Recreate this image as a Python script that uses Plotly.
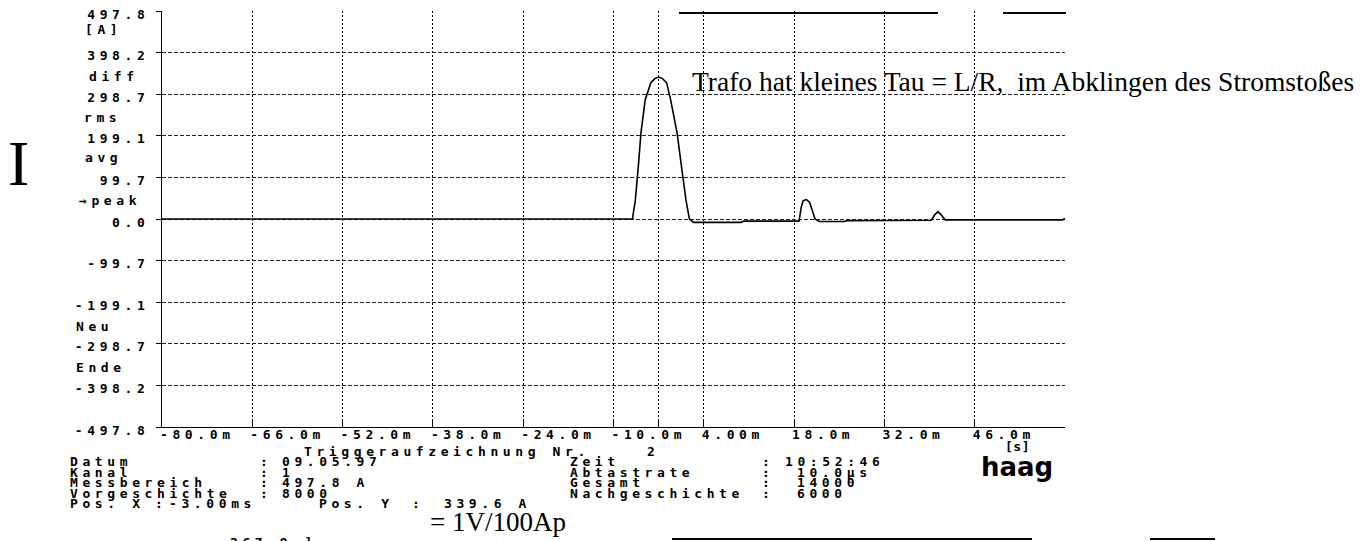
import plotly.graph_objects as go

# ---------------- data ----------------
time_ms = [-80.0, -7.04, -6.95, -6.62, -6.16, -5.75, -5.09, -4.21, -3.6, -3.0, -2.4,
           -1.76, -1.14, -0.13, 0.55, 1.25, 1.77, 2.43, 9.8, 10.2,
           18.77, 19.1, 19.4, 19.9, 20.4, 20.8, 21.25, 21.9, 25.8, 26.2,
           39.27, 39.8, 40.3, 40.8, 41.4, 59.6, 60.0]
current_A = [0.0, 0.0, 12.0, 44.0, 124.0, 205.0, 285.0, 326.0, 336.0, 339.6, 336.0,
             326.0, 285.0, 205.0, 124.0, 44.0, 0.0, -8.0, -8.0, -5.0,
             -5.0, 28.0, 44.0, 46.5, 40.0, 20.0, 0.0, -6.0, -6.0, -4.0,
             -3.0, 10.0, 17.6, 10.0, -2.0, -2.0, 1.0]

x_tick_vals = [-80, -66, -52, -38, -24, -10, 4, 18, 32, 46]
x_tick_text = ["-80.0m", "-66.0m", "-52.0m", "-38.0m", "-24.0m", "-10.0m",
               "4.00m", "18.0m", "32.0m", "46.0m"]
cursor_ms = -3.0

y_tick_vals = [497.8, 398.2, 298.7, 199.1, 99.7, 0.0, -99.7, -199.1, -298.7, -398.2, -497.8]
y_tick_text = ["497.8", "398.2", "298.7", "199.1", "99.7", "0.0",
               "-99.7", "-199.1", "-298.7", "-398.2", "-497.8"]

side_labels = ["[A]", "diff", "rms", "avg", "\u2192peak", "Neu", "Ende"]

info_rows = [
    [("Datum", 68), (":", 258), ("09.05.97", 280), ("Zeit", 568), (":", 760), ("10:52:46", 783)],
    [("Kanal", 68), (":", 258), ("1", 280), ("Abtastrate", 568), (":", 760), ("10.0\u00b5s", 795)],
    [("Messbereich", 68), (":", 258), ("497.8 A", 280), ("Gesamt", 568), (":", 760), ("14000", 795)],
    [("Vorgeschichte", 68), (":", 258), ("8000", 280), ("Nachgeschichte", 568), (":", 760), ("6000", 795)],
    [("Pos. X", 68), (":", 153), ("-3.00ms", 167), ("Pos. Y", 317), (":", 410), ("339.6 A", 442)],
]

title_note = "Trafo hat kleines Tau = L/R,  im Abklingen des Stromsto\u00dfes"
scale_note = "= 1V/100Ap"

# ---------------- layout helpers ----------------
OFF = 8                      # page body margin of the html page
W, H = 1366 - OFF, 541 - OFF
L, T = 162 - OFF, 11 - OFF
PW, PH = 903, 416
R = W - L - PW
B = H - T - PH
MONO = "DejaVu Sans Mono"
SERIF = "Liberation Serif"
FS = 13
LS = 4.6


def px(x):
    return (x - 162) / PW


def py(y):
    return (427 - y) / PH


def spaced(t, ls=LS):
    return f"<span style='letter-spacing:{ls}px'>{t}</span>"


annotations = []


def ann(x, y, text, size=FS, family=MONO, xanchor="left", weight="bold", ls=LS, yanchor="middle"):
    annotations.append(dict(
        x=px(x), y=py(y), xref="paper", yref="paper", showarrow=False,
        text=spaced(text, ls) if ls else text, xanchor=xanchor, yanchor=yanchor,
        font=dict(family=family, size=size, color="black", weight=weight),
    ))


fig = go.Figure()
fig.add_trace(go.Scatter(x=time_ms, y=current_A, mode="lines",
                         line=dict(color="black", width=1.6), hoverinfo="skip"))

tickfont = dict(family=MONO, size=FS, color="black", weight="bold")
fig.update_layout(
    width=W, height=H, margin=dict(l=L, r=R, t=T, b=B, autoexpand=False),
    paper_bgcolor="white", plot_bgcolor="white", showlegend=False,
    xaxis=dict(range=[-80, 60], tickvals=x_tick_vals + [cursor_ms],
               ticktext=[spaced(t) for t in x_tick_text] + [""],
               ticks="inside", ticklen=7, tickcolor="black",
               ticklabelposition="outside right", ticklabelstandoff=-5,
               ticklabelshift=-3, ticklabeloverflow="allow", automargin=False,
               showline=True, linecolor="black", linewidth=1,
               showgrid=True, gridcolor="black", gridwidth=1, griddash="2px,2px",
               zeroline=False, tickfont=tickfont),
    yaxis=dict(range=[-497.8, 497.8], tickvals=y_tick_vals,
               ticktext=[spaced(t) for t in y_tick_text],
               ticks="outside", ticklen=5, tickcolor="black",
               ticklabelstandoff=4, ticklabelshift=3,
               ticklabeloverflow="allow", automargin=False,
               showline=True, linecolor="black", linewidth=1,
               showgrid=True, gridcolor="#222222", gridwidth=1, griddash="4px,2px",
               zeroline=False, tickfont=tickfont),
)

# side menu labels
side_pos = [(83, 30), (87, 76), (82, 117), (83, 157), (77, 200), (74, 326), (74, 367)]
for lab, (x, y) in zip(side_labels, side_pos):
    ann(x, y, lab)

# big "I"
ann(6, 163, "I", size=64, family=SERIF, weight="normal", ls=0)

# note texts
ann(690, 82, title_note, size=27.5, family=SERIF, weight="normal", ls=0)
ann(428, 522, scale_note, size=27, family=SERIF, weight="normal", ls=0)

# "[s]" unit
ann(1003, 446, "[s]", ls=0.5)

# info block
ann(302, 452, "Triggeraufzeichnung Nr.")
ann(645, 452, "2")
row_y = [461.5, 472, 482.5, 493, 503.5]
for ry, row in zip(row_y, info_rows):
    for txt, x in row:
        ann(x, ry, txt)

# haag logo
ann(979, 467, "haag", size=26, family="DejaVu Sans", weight="bold", ls=0)

# cut-off text at bottom edge
ann(228, 533, "367.9 ]", yanchor="top")

shapes = []
for x0, x1, y in [(679, 938, 13), (1003, 1066, 13), (672, 1032, 539), (1150, 1215, 539)]:
    shapes.append(dict(type="line", xref="paper", yref="paper",
                       x0=px(x0), x1=px(x1), y0=py(y), y1=py(y),
                       line=dict(color="black", width=2)))

fig.update_layout(annotations=annotations, shapes=shapes)
fig.write_html("out.html")
